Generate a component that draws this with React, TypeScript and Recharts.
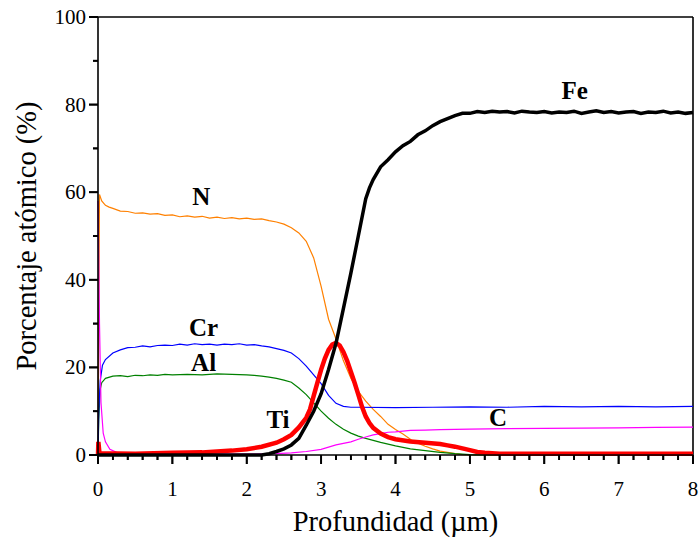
import React from 'react';
import { LineChart, Line, XAxis, YAxis, ReferenceLine, ReferenceDot } from 'recharts';

const FONT = '"Liberation Serif", "Times New Roman", serif';

// Depth (µm) and atomic percentage series
const nData = [[0,2],[0.02,59.5],[0.05,58.0],[0.1,57.0],[0.15,56.6],[0.2,56.3],[0.3,55.7],[0.4,55.6],[0.5,55.2],[0.6,55.3],[0.7,55.0],[0.8,55.1],[0.9,54.7],[1.0,54.8],[1.1,54.4],[1.2,54.6],[1.3,54.3],[1.4,54.5],[1.5,54.1],[1.6,54.3],[1.7,54.0],[1.8,54.2],[1.9,53.9],[2.0,54.1],[2.1,53.8],[2.2,53.9],[2.3,53.5],[2.4,53.2],[2.5,52.7],[2.6,51.9],[2.7,50.7],[2.8,48.8],[2.9,45.0],[3.0,38.5],[3.1,31.0],[3.2,26.5],[3.3,21.5],[3.4,17.5],[3.5,14.5],[3.6,12.3],[3.7,10.4],[3.8,8.8],[3.9,7.0],[4.0,5.8],[4.1,4.8],[4.2,3.6],[4.3,2.7],[4.4,2.0],[4.5,1.4],[4.6,0.9],[4.7,0.6],[4.8,0.3],[4.9,0.1],[5.0,0],[8,0]];

const crData = [[0,0],[0.01,10],[0.03,17],[0.06,20.5],[0.1,21.8],[0.2,23.3],[0.3,24.0],[0.4,24.5],[0.5,24.6],[0.6,24.9],[0.7,24.7],[0.8,25.0],[0.9,25.1],[1.0,25.0],[1.1,25.3],[1.2,25.1],[1.3,25.4],[1.4,25.2],[1.5,25.3],[1.6,25.1],[1.7,25.3],[1.8,25.2],[1.9,25.4],[2.0,25.1],[2.1,25.2],[2.2,24.9],[2.3,24.7],[2.4,24.3],[2.5,23.9],[2.6,23.3],[2.7,22.0],[2.8,20.3],[2.9,18.3],[3.0,16.3],[3.1,13.6],[3.2,11.8],[3.3,11.1],[3.4,10.9],[3.5,10.9],[4.0,10.8],[4.5,10.9],[5.0,11.0],[5.5,10.9],[6.0,11.1],[6.5,11.0],[7.0,11.1],[7.5,11.0],[8.0,11.1]];

const alData = [[0,0],[0.01,8],[0.03,15],[0.05,16.5],[0.1,17.5],[0.2,18.0],[0.3,18.1],[0.4,17.9],[0.5,18.2],[0.6,18.1],[0.7,18.3],[0.8,18.2],[0.9,18.4],[1.0,18.3],[1.2,18.4],[1.4,18.3],[1.6,18.5],[1.8,18.4],[2.0,18.3],[2.1,18.2],[2.2,18.0],[2.3,17.8],[2.4,17.5],[2.5,17.1],[2.6,16.6],[2.7,15.3],[2.8,13.8],[2.9,11.9],[3.0,10.0],[3.1,8.4],[3.2,7.0],[3.3,5.9],[3.4,5.0],[3.5,4.3],[3.6,3.8],[3.8,2.9],[4.0,2.1],[4.2,1.4],[4.4,1.0],[4.6,0.6],[4.8,0.3],[5.0,0.1],[5.2,0],[8,0]];

const cData = [[0,58],[0.02,30],[0.04,12],[0.07,5],[0.1,3],[0.16,1.3],[0.25,0.6],[0.35,0.3],[1,0.2],[2,0.2],[2.4,0.3],[2.6,0.5],[2.8,0.8],[3.0,1.3],[3.2,2.3],[3.4,3.0],[3.5,3.6],[3.6,4.1],[3.7,4.6],[3.8,4.9],[3.9,5.2],[4.0,5.3],[4.2,5.6],[4.4,5.7],[4.6,5.8],[5.0,5.9],[5.5,6.0],[6.0,6.1],[6.5,6.15],[7.0,6.2],[7.5,6.3],[8.0,6.35]];

const tiData = [[0,0],[0.005,3],[0.02,0.4],[0.5,0.3],[1.0,0.5],[1.4,0.6],[1.8,1.0],[2.0,1.3],[2.2,1.9],[2.4,2.8],[2.5,3.6],[2.6,4.6],[2.7,6.3],[2.8,8.5],[2.85,10.4],[2.9,13.5],[2.95,16.5],[3.0,19.5],[3.05,22],[3.1,24],[3.15,25.2],[3.2,25.6],[3.25,25.0],[3.3,23.5],[3.35,21.5],[3.4,19],[3.45,16.5],[3.5,13.8],[3.55,11],[3.6,8.8],[3.65,7.3],[3.7,6.2],[3.8,4.9],[3.9,4.1],[4.0,3.6],[4.2,3.1],[4.4,2.8],[4.6,2.5],[4.7,2.2],[4.8,1.9],[4.9,1.5],[5.0,1.1],[5.1,0.7],[5.2,0.5],[5.4,0.3],[8.0,0.3]];

const feData = [[0,0],[2.2,0],[2.3,0.3],[2.4,0.8],[2.5,1.4],[2.6,2.3],[2.7,3.8],[2.8,6.8],[2.9,10],[3.0,14],[3.1,19.5],[3.2,25.5],[3.3,33.5],[3.4,41.5],[3.5,50],[3.6,58.5],[3.65,61],[3.7,62.9],[3.8,65.8],[3.9,67.4],[4.0,69.2],[4.1,70.6],[4.2,71.6],[4.3,73.1],[4.4,74.0],[4.5,75.2],[4.6,76.1],[4.7,76.8],[4.8,77.5],[4.9,78.0],[5.0,78.0],[5.1,78.4],[5.2,78.2],[5.3,78.5],[5.4,78.3],[5.5,78.4],[5.6,78.1],[5.7,78.5],[5.8,78.3],[5.9,78.2],[6.0,78.4],[6.1,78.1],[6.2,78.3],[6.3,78.2],[6.4,78.5],[6.5,78.0],[6.6,78.3],[6.7,78.6],[6.8,78.2],[6.9,78.4],[7.0,78.1],[7.1,78.3],[7.2,78.4],[7.3,78.0],[7.4,78.3],[7.5,78.2],[7.6,78.5],[7.7,78.1],[7.8,78.3],[7.9,78.0],[8.0,78.2]];

const xMajorTicks = [0, 1, 2, 3, 4, 5, 6, 7, 8];
const yMajorTicks = [0, 20, 40, 60, 80, 100];
const xTicks = [0,0.2,0.4,0.6,0.8,1,1.2,1.4,1.6,1.8,2,2.2,2.4,2.6,2.8,3,3.2,3.4,3.6,3.8,4,4.2,4.4,4.6,4.8,5,5.2,5.4,5.6,5.8,6,6.2,6.4,6.6,6.8,7,7.2,7.4,7.6,7.8,8];
const yTicks = [0, 10, 20, 30, 40, 50, 60, 70, 80, 90, 100];

const xTitle = 'Profundidad (µm)';
const yTitle = 'Porcentaje atómico (%)';

const elementLabels = [
  { name: 'N', x: 1.39, y: 59 },
  { name: 'Cr', x: 1.42, y: 29 },
  { name: 'Al', x: 1.42, y: 21 },
  { name: 'Ti', x: 2.42, y: 8 },
  { name: 'C', x: 5.38, y: 8.5 },
  { name: 'Fe', x: 6.41, y: 83 },
];

const toPts = (arr: number[][]) => arr.map(([x, y]) => ({ x, y }));
const isXMajor = (v: number) => xMajorTicks.some((t) => Math.abs(t - v) < 1e-6);

const renderXTick = (props: any) => {
  const { x, y, payload } = props;
  const v = payload.value;
  const major = isXMajor(v);
  return (
    <g>
      <rect x={x - 0.9} y={y} width={1.8} height={major ? 9 : 5} fill="#000" />
      {major && (
        <text x={x} y={y + 41} textAnchor="middle" style={{ fontFamily: FONT, fontSize: 21 }} fill="#000">
          {Math.round(v)}
        </text>
      )}
    </g>
  );
};

const renderYTick = (props: any) => {
  const { x, y, payload } = props;
  const v = payload.value;
  const major = yMajorTicks.includes(v);
  const len = major ? 9 : 5;
  return (
    <g>
      <rect x={x - len} y={y - 0.9} width={len} height={1.8} fill="#000" />
      {major && (
        <text x={x - 12} y={y + 7} textAnchor="end" style={{ fontFamily: FONT, fontSize: 21 }} fill="#000">
          {v}
        </text>
      )}
    </g>
  );
};

const series = [
  { key: 'N', data: nData, color: '#FF8000', w: 1.2 },
  { key: 'Al', data: alData, color: '#008000', w: 1.2 },
  { key: 'Cr', data: crData, color: '#0000FF', w: 1.2 },
  { key: 'C', data: cData, color: '#FF00FF', w: 1.2 },
  { key: 'Ti', data: tiData, color: '#FF0000', w: 4.5 },
  { key: 'Fe', data: feData, color: '#000000', w: 3.5 },
];

export default function App() {
  return (
    <div style={{ position: 'absolute', left: 0, top: 0, width: 699, height: 543, background: '#fff', fontFamily: FONT }}>
      <LineChart width={699} height={543} margin={{ top: 17, right: 6, bottom: 0, left: 0 }}>
        <XAxis
          type="number"
          dataKey="x"
          domain={[0, 8]}
          ticks={xTicks}
          interval={0}
          tick={renderXTick}
          tickLine={false}
          tickSize={0}
          tickMargin={0}
          height={88}
          axisLine={{ stroke: '#000', strokeWidth: 1.6 }}
          label={{
            content: (p: any) => {
              const vb = p.viewBox;
              return (
                <text x={vb.x + vb.width / 2} y={vb.y + 76} textAnchor="middle" style={{ fontFamily: FONT, fontSize: 28.5 }} fill="#000">
                  {xTitle}
                </text>
              );
            },
          }}
        />
        <YAxis
          type="number"
          dataKey="y"
          domain={[0, 100]}
          ticks={yTicks}
          interval={0}
          tick={renderYTick}
          tickLine={false}
          tickSize={0}
          tickMargin={0}
          width={98}
          axisLine={{ stroke: '#000', strokeWidth: 1.6 }}
          label={{
            content: (p: any) => {
              const vb = p.viewBox;
              const cx = vb.x + 36;
              const cy = vb.y + vb.height / 2;
              return (
                <text x={cx} y={cy} transform={`rotate(-90 ${cx} ${cy})`} textAnchor="middle" style={{ fontFamily: FONT, fontSize: 28.5 }} fill="#000">
                  {yTitle}
                </text>
              );
            },
          }}
        />
        <ReferenceLine y={100} stroke="#000" strokeWidth={1.6} />
        <ReferenceLine x={8} stroke="#000" strokeWidth={1.6} />
        {series.map((s) => (
          <Line
            key={s.key}
            data={toPts(s.data)}
            dataKey="y"
            type="linear"
            stroke={s.color}
            strokeWidth={s.w}
            dot={false}
            isAnimationActive={false}
          />
        ))}
        {xTicks.map((v) => (
          <ReferenceDot
            key={'xtm' + v}
            x={v}
            y={0}
            r={0}
            shape={(p: any) => (
              <rect x={p.cx - 0.9} y={p.cy} width={1.8} height={isXMajor(v) ? 9 : 5} fill="#000" />
            )}
          />
        ))}
        {yTicks.map((v) => {
          const len = yMajorTicks.includes(v) ? 9 : 5;
          return (
            <ReferenceDot
              key={'ytm' + v}
              x={0}
              y={v}
              r={0}
              shape={(p: any) => <rect x={p.cx - len} y={p.cy - 0.9} width={len} height={1.8} fill="#000" />}
            />
          );
        })}
        {elementLabels.map((l) => (
          <ReferenceDot
            key={l.name}
            x={l.x}
            y={l.y}
            r={0}
            shape={(p: any) => (
              <text x={p.cx} y={p.cy + 8} textAnchor="middle" style={{ fontFamily: FONT, fontWeight: 'bold', fontSize: 25 }} fill="#000">
                {l.name}
              </text>
            )}
          />
        ))}
      </LineChart>
    </div>
  );
}
